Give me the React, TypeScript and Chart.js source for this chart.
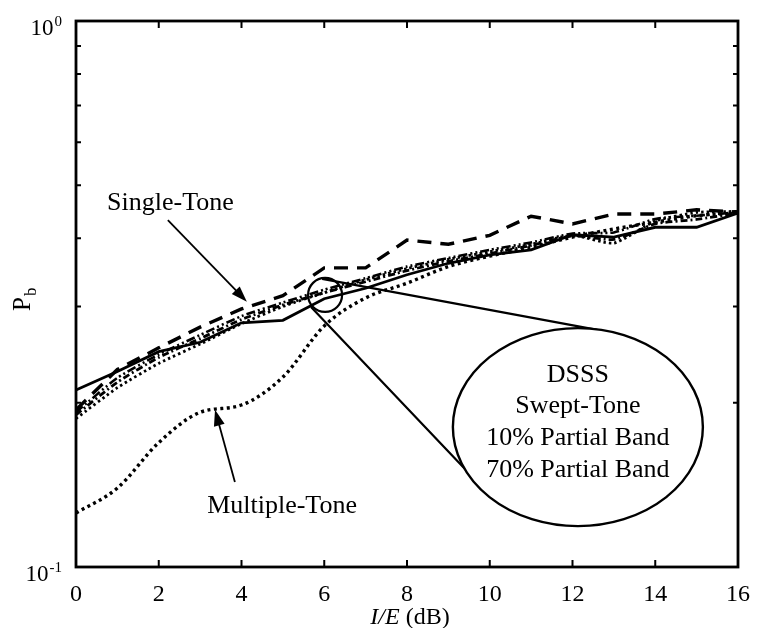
import React, { useEffect, useRef } from "react";
import { Chart, registerables } from "chart.js";

Chart.register(...registerables);

// ---- data ----
const ieDb = [0, 1, 2, 3, 4, 5, 6, 7, 8, 9, 10, 11, 12, 13, 14, 15, 16];
const dsss = [0.211, 0.228, 0.248, 0.258, 0.28, 0.283, 0.31, 0.324, 0.343, 0.36, 0.373, 0.381, 0.406, 0.402, 0.419, 0.419, 0.445];
const singleTone = [0.194, 0.23, 0.252, 0.275, 0.297, 0.314, 0.353, 0.353, 0.397, 0.39, 0.405, 0.439, 0.425, 0.443, 0.443, 0.451, 0.447];
const multipleTone = [0.1256, 0.1395, 0.169, 0.192, 0.198, 0.2228, 0.2764, 0.311, 0.331, 0.355, 0.371, 0.385, 0.402, 0.416, 0.428, 0.44, 0.445];
const sweptTone = [0.19, 0.218, 0.242, 0.262, 0.284, 0.302, 0.318, 0.333, 0.349, 0.363, 0.375, 0.388, 0.404, 0.398, 0.425, 0.433, 0.445];
const partialBand10 = [0.187, 0.213, 0.236, 0.256, 0.279, 0.3, 0.318, 0.336, 0.352, 0.366, 0.378, 0.39, 0.405, 0.392, 0.43, 0.446, 0.448];
const partialBand70 = [0.192, 0.222, 0.245, 0.266, 0.288, 0.305, 0.322, 0.338, 0.355, 0.368, 0.381, 0.393, 0.408, 0.41, 0.434, 0.44, 0.446];

const xTickValues = [0, 2, 4, 6, 8, 10, 12, 14, 16];
const yMinorTicks = [0.2, 0.3, 0.4, 0.5, 0.6, 0.7, 0.8, 0.9];
const yMajorLabels = [
  { v: 1, base: "10", sup: "0" },
  { v: 0.1, base: "10", sup: "-1" },
];
const ellipseLines = ["DSSS", "Swept-Tone", "10% Partial Band", "70% Partial Band"];

// annotation anchors in data coordinates
const singleToneLabel = { x: 0.75, y: 0.451, text: "Single-Tone" };
const singleToneArrow = { x0: 2.22, y0: 0.432, x1: 4.13, y1: 0.306 };
const multiToneLabel = { x: 3.17, y: 0.1256, text: "Multiple-Tone" };
const multiToneArrow = { x0: 3.84, y0: 0.1431, x1: 3.36, y1: 0.194 };
const zoomCircle = { x: 6.02, y: 0.315 };
const calloutEllipse = { x: 12.13, y: 0.1804 };
const upperLeader = { x0: 5.95, y0: 0.337, x1: 12.6, y1: 0.2718 };
const lowerLeader = { x0: 5.68, y0: 0.2993, x1: 9.47, y1: 0.1493 };

const SERIF = "'Liberation Serif', 'Times New Roman', serif";

function pts(vals: number[]) {
  return ieDb.map((x, i) => ({ x, y: vals[i] }));
}

function arrow(ctx: CanvasRenderingContext2D, x0: number, y0: number, x1: number, y1: number) {
  const a = Math.atan2(y1 - y0, x1 - x0);
  const L = 16, W = 5.5;
  ctx.beginPath();
  ctx.moveTo(x0, y0);
  ctx.lineTo(x1 - (L - 2) * Math.cos(a), y1 - (L - 2) * Math.sin(a));
  ctx.stroke();
  ctx.beginPath();
  ctx.moveTo(x1, y1);
  ctx.lineTo(x1 - L * Math.cos(a) + W * Math.sin(a), y1 - L * Math.sin(a) - W * Math.cos(a));
  ctx.lineTo(x1 - L * Math.cos(a) - W * Math.sin(a), y1 - L * Math.sin(a) + W * Math.cos(a));
  ctx.closePath();
  ctx.fill();
}

const decorPlugin = {
  id: "decor",
  afterDatasetsDraw(chart: any) {
    const ctx: CanvasRenderingContext2D = chart.ctx;
    const xs = chart.scales.x;
    const ys = chart.scales.y;
    const { left, right, top, bottom } = chart.chartArea;
    const X = (v: number) => xs.getPixelForValue(v);
    const Y = (v: number) => ys.getPixelForValue(v);
    ctx.save();
    ctx.strokeStyle = "#000";
    ctx.fillStyle = "#000";

    // frame
    ctx.lineWidth = 2.8;
    ctx.strokeRect(left, top, right - left, bottom - top);

    // inward ticks
    ctx.lineWidth = 2;
    xTickValues.forEach((v) => {
      const px = X(v);
      ctx.beginPath();
      ctx.moveTo(px, bottom);
      ctx.lineTo(px, bottom - 7);
      ctx.moveTo(px, top);
      ctx.lineTo(px, top + 7);
      ctx.stroke();
    });
    yMinorTicks.forEach((v) => {
      const py = Y(v);
      ctx.beginPath();
      ctx.moveTo(left, py);
      ctx.lineTo(left + 5, py);
      ctx.moveTo(right, py);
      ctx.lineTo(right - 5, py);
      ctx.stroke();
    });

    // y labels with superscripts
    ctx.textBaseline = "alphabetic";
    yMajorLabels.forEach((l) => {
      const py = Y(l.v);
      ctx.font = `15px ${SERIF}`;
      const sw = ctx.measureText(l.sup).width;
      const supX = left - 14 - sw;
      ctx.textAlign = "left";
      ctx.fillText(l.sup, supX, py + 5);
      ctx.font = `23px ${SERIF}`;
      ctx.textAlign = "right";
      ctx.fillText(l.base, supX - 1, py + 14);
    });

    // y title P_b
    ctx.save();
    ctx.translate(30, 311);
    ctx.rotate(-Math.PI / 2);
    ctx.textAlign = "left";
    ctx.font = `25px ${SERIF}`;
    ctx.fillText("P", 0, 0);
    const pw = ctx.measureText("P").width;
    ctx.font = `17px ${SERIF}`;
    ctx.fillText("b", pw + 1, 6);
    ctx.restore();

    // x title  I/E (dB)
    ctx.font = `italic 24px ${SERIF}`;
    const t1 = "I/E";
    const w1 = ctx.measureText(t1).width;
    ctx.font = `24px ${SERIF}`;
    const t2 = " (dB)";
    const w2 = ctx.measureText(t2).width;
    const cx = (left + right) / 2 + 3;
    const sx = cx - (w1 + w2) / 2;
    ctx.textAlign = "left";
    ctx.font = `italic 24px ${SERIF}`;
    ctx.fillText(t1, sx, 624);
    ctx.font = `24px ${SERIF}`;
    ctx.fillText(t2, sx + w1, 624);

    // annotations
    ctx.font = `26px ${SERIF}`;
    ctx.textAlign = "left";
    ctx.fillText(singleToneLabel.text, X(singleToneLabel.x), Y(singleToneLabel.y));
    ctx.fillText(multiToneLabel.text, X(multiToneLabel.x), Y(multiToneLabel.y));
    ctx.lineWidth = 1.8;
    arrow(ctx, X(singleToneArrow.x0), Y(singleToneArrow.y0), X(singleToneArrow.x1), Y(singleToneArrow.y1));
    arrow(ctx, X(multiToneArrow.x0), Y(multiToneArrow.y0), X(multiToneArrow.x1), Y(multiToneArrow.y1));

    // zoom circle and leaders
    ctx.lineWidth = 2.2;
    ctx.beginPath();
    ctx.arc(X(zoomCircle.x), Y(zoomCircle.y), 17, 0, Math.PI * 2);
    ctx.stroke();
    ctx.beginPath();
    ctx.moveTo(X(upperLeader.x0), Y(upperLeader.y0));
    ctx.lineTo(X(upperLeader.x1), Y(upperLeader.y1));
    ctx.moveTo(X(lowerLeader.x0), Y(lowerLeader.y0));
    ctx.lineTo(X(lowerLeader.x1), Y(lowerLeader.y1));
    ctx.stroke();

    const ex = X(calloutEllipse.x);
    const ey = Y(calloutEllipse.y);
    ctx.beginPath();
    ctx.ellipse(ex, ey, 125, 99, 0, 0, Math.PI * 2);
    ctx.fillStyle = "#fff";
    ctx.fill();
    ctx.lineWidth = 2.4;
    ctx.stroke();
    ctx.fillStyle = "#000";
    ctx.font = `26px ${SERIF}`;
    ctx.textAlign = "center";
    const offs = [-45, -14, 18, 50];
    ellipseLines.forEach((s, i) => ctx.fillText(s, ex, ey + offs[i]));

    ctx.restore();
  },
};

export default function App() {
  const ref = useRef<HTMLCanvasElement | null>(null);
  useEffect(() => {
    if (!ref.current) return;
    const chart = new Chart(ref.current, {
      type: "line",
      data: {
        datasets: [
          { label: "DSSS", data: pts(dsss), borderColor: "#000", borderWidth: 2.8, pointRadius: 0, tension: 0 },
          { label: "Single-Tone", data: pts(singleTone), borderColor: "#000", borderWidth: 3.4, borderDash: [14, 9], pointRadius: 0, tension: 0 },
          { label: "Multiple-Tone", data: pts(multipleTone), borderColor: "#000", borderWidth: 3.4, borderDash: [3, 3.5], pointRadius: 0, cubicInterpolationMode: "monotone" },
          { label: "Swept-Tone", data: pts(sweptTone), borderColor: "#000", borderWidth: 2.8, borderDash: [7, 3, 2, 3], pointRadius: 0, tension: 0.2 },
          { label: "10% Partial Band", data: pts(partialBand10), borderColor: "#000", borderWidth: 2.8, borderDash: [2.5, 3], pointRadius: 0, tension: 0.2 },
          { label: "70% Partial Band", data: pts(partialBand70), borderColor: "#000", borderWidth: 2.6, borderDash: [9, 3, 2, 3, 2, 3], pointRadius: 0, tension: 0.2 },
        ],
      },
      options: {
        animation: false,
        responsive: false,
        devicePixelRatio: 1,
        layout: { padding: { left: 0, right: 20, top: 21, bottom: 0 } },
        plugins: { legend: { display: false }, tooltip: { enabled: false } },
        scales: {
          x: {
            type: "linear",
            min: 0,
            max: 16,
            grid: { display: false },
            border: { display: false },
            ticks: {
              stepSize: 2,
              padding: 5,
              color: "#000",
              font: { family: SERIF, size: 24 },
              maxRotation: 0,
            },
            afterFit: (s: any) => { s.height = 61; },
          },
          y: {
            type: "logarithmic",
            min: 0.1,
            max: 1,
            grid: { display: false },
            border: { display: false },
            ticks: { display: false },
            afterFit: (s: any) => { s.width = 76; },
          },
        },
      },
      plugins: [decorPlugin],
    } as any);
    return () => chart.destroy();
  }, []);
  return (
    <div style={{ position: "absolute", left: 0, top: 0, width: 758, height: 628, background: "#fff" }}>
      <canvas ref={ref} width={758} height={628} />
    </div>
  );
}
